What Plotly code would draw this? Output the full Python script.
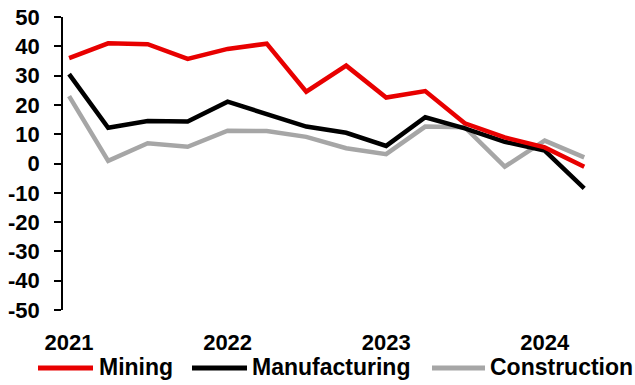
import plotly.graph_objects as go

# Quarterly readings, plotted mid-month at the start of each quarter
quarters = [
    "2021-01-15", "2021-04-15", "2021-07-15", "2021-10-15",
    "2022-01-15", "2022-04-15", "2022-07-15", "2022-10-15",
    "2023-01-15", "2023-04-15", "2023-07-15", "2023-10-15",
    "2024-01-15", "2024-04-15",
]
mining = [36.0, 41.0, 40.7, 35.7, 39.1, 40.9, 24.5, 33.4, 22.5, 24.7, 13.7, 8.9, 5.5, -1.1]
manufacturing = [30.5, 12.2, 14.5, 14.3, 21.1, 16.8, 12.6, 10.5, 6.0, 15.8, 12.0, 7.4, 4.4, -8.5]
construction = [23.0, 0.9, 6.9, 5.7, 11.2, 11.1, 9.1, 5.2, 3.2, 12.6, 12.4, -1.1, 7.8, 2.1]

year_label_pos = ["2021-01-15", "2022-01-15", "2023-01-15", "2024-01-15"]
year_labels = ["2021", "2022", "2023", "2024"]
year_ticks = ["2021-01-01", "2022-01-01", "2023-01-01", "2024-01-01"]
y_ticks = [-50, -40, -30, -20, -10, 0, 10, 20, 30, 40, 50]

series = [
    ("Mining", mining, "#E80000"),
    ("Manufacturing", manufacturing, "#000000"),
    ("Construction", construction, "#A6A6A6"),
]

FONT = "Liberation Sans, Arial, sans-serif"
x_range = ["2021-01-01", "2024-08-03"]

fig = go.Figure()
# grey first so the darker series sit on top
for name, vals, color in reversed(series):
    fig.add_trace(go.Scatter(
        x=quarters, y=vals, name=name, mode="lines",
        line=dict(color=color, width=4.5),
        showlegend=False,
    ))

# Hand-drawn legend row under the axis labels
L, R, T, B = 63, 3, 17, 75
W, H = 635, 385
pw, ph = W - L - R, H - T - B

def px(xp):
    return (xp - L) / pw

def py(yp):
    return (H - B - yp) / ph

legend_items = [(38, 93, 97), (192, 247, 250), (432, 485, 488)]
shapes = []
annotations = []
for (name, _, color), (x0, x1, xt) in zip(series, legend_items):
    shapes.append(dict(type="line", xref="paper", yref="paper",
                       x0=px(x0), x1=px(x1), y0=py(368), y1=py(368),
                       line=dict(color=color, width=5)))
    annotations.append(dict(xref="paper", yref="paper", x=px(xt), y=py(367),
                            xanchor="left", yanchor="middle", showarrow=False,
                            text="<b>%s</b>" % name,
                            font=dict(family=FONT, size=23, color="#000000")))

fig.update_layout(
    width=W, height=H,
    margin=dict(l=L, r=R, t=T, b=B),
    paper_bgcolor="white", plot_bgcolor="white",
    showlegend=False,
    font=dict(family=FONT, size=22, color="#000000"),
    shapes=shapes,
    annotations=annotations,
    xaxis=dict(
        type="date", range=x_range,
        showgrid=False, zeroline=False, showline=False,
        ticks="", tickmode="array",
        tickvals=year_label_pos, ticktext=["<b>%s</b>" % t for t in year_labels],
        ticklabelstandoff=17,
    ),
    xaxis2=dict(
        type="date", range=x_range, overlaying="x", matches="x",
        anchor="free", position=0.5, side="bottom",
        showgrid=False, zeroline=False,
        showline=True, linecolor="#000000", linewidth=1.5,
        ticks="outside", ticklen=7, tickwidth=1.5, tickcolor="#000000",
        tickmode="array", tickvals=year_ticks, showticklabels=False,
    ),
    yaxis=dict(
        range=[-50, 50],
        tickmode="array", tickvals=y_ticks,
        ticktext=["<b>%d</b>" % v for v in y_ticks],
        showgrid=False, zeroline=False,
        showline=True, linecolor="#000000", linewidth=1.5,
        ticks="outside", ticklen=7, tickwidth=1.5, tickcolor="#000000",
        tickfont=dict(family=FONT, size=22),
        ticklabelstandoff=10,
    ),
)

fig.write_html("out.html")
